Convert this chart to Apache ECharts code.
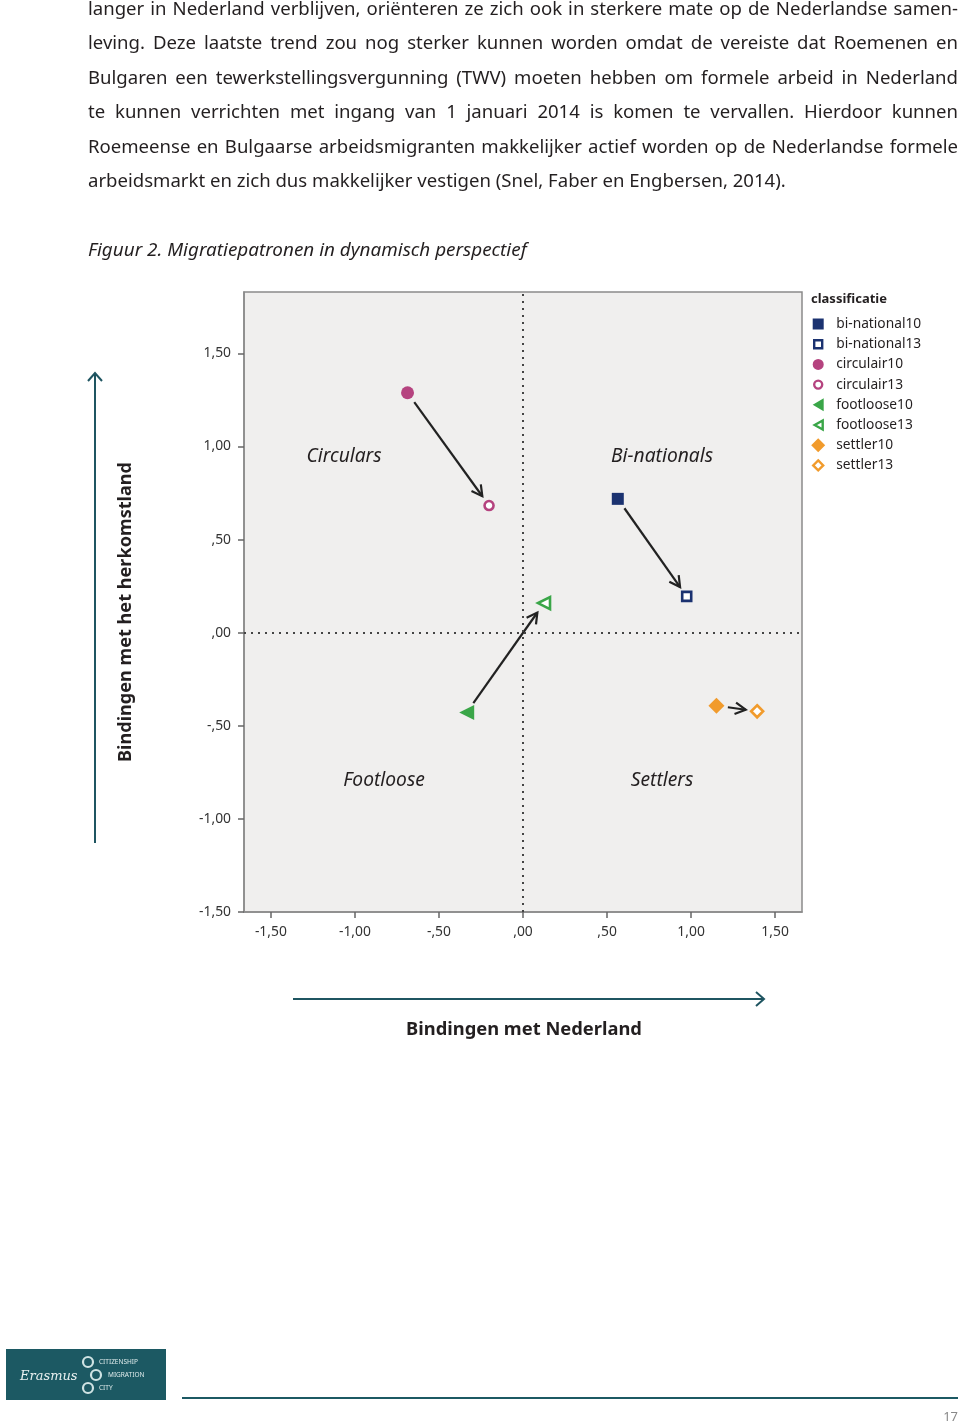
<!DOCTYPE html>
<html><head><meta charset="utf-8">
<script src="https://cdn.jsdelivr.net/npm/echarts@6/dist/echarts.min.js"></script>
<style>
html,body{margin:0;padding:0;background:#fff;}
#chart{position:absolute;left:0;top:0;width:960px;height:1424px;}
#para{position:absolute;left:88px;top:-9px;width:870px;font-family:'Noto Sans';color:#231f20;z-index:2;}
#para div{white-space:nowrap;line-height:34.4px;height:34.4px;}
</style></head><body>
<div id="chart"></div>
<div id="para"></div>
<script>
// ---------- data ----------
const paragraphLines = [
  'langer in Nederland verblijven, oriënteren ze zich ook in sterkere mate op de Nederlandse samen-',
  'leving. Deze laatste trend zou nog sterker kunnen worden omdat de vereiste dat Roemenen en',
  'Bulgaren een tewerkstellingsvergunning (TWV) moeten hebben om formele arbeid in Nederland',
  'te kunnen verrichten met ingang van 1 januari 2014 is komen te vervallen. Hierdoor kunnen',
  'Roemeense en Bulgaarse arbeidsmigranten makkelijker actief worden op de Nederlandse formele',
  'arbeidsmarkt en zich dus makkelijker vestigen (Snel, Faber en Engbersen, 2014).'
];
const captionText = 'Figuur 2. Migratiepatronen in dynamisch perspectief';
const classNames = ['bi-national', 'circulair', 'footloose', 'settler'];
const x2010 = [0.564, -0.687, -0.335, 1.151];
const y2010 = [0.719, 1.289, -0.428, -0.392];
const x2013 = [0.974, -0.202, 0.125, 1.393];
const y2013 = [0.195, 0.683, 0.159, -0.422];
const quadrantNames = ['Circulars', 'Bi-nationals', 'Footloose', 'Settlers'];
const xTickValues = [-1.5, -1, -0.5, 0, 0.5, 1, 1.5];
const xTickLabels = ['-1,50', '-1,00', '-,50', ',00', ',50', '1,00', '1,50'];
const yTickValues = [-1.5, -1, -0.5, 0, 0.5, 1, 1.5];
const yTickLabels = ['-1,50', '-1,00', '-,50', ',00', ',50', '1,00', '1,50'];
const legendTitle = 'classificatie';
const yTitle = 'Bindingen met het herkomstland';
const xTitle = 'Bindingen met Nederland';
const pageNumber = '17';

// ---------- helpers ----------
const FF = '"Noto Sans"';
const ctx = document.createElement('canvas').getContext('2d');
function measure(text, size, pre) { ctx.font = (pre || '') + ' ' + size + 'px ' + FF; return ctx.measureText(text).width; }
function fit(text, target, pre) { return +(20 * target / measure(text, 20, pre)).toFixed(2); }

// paragraph (justified by word spacing)
const paraSize = fit(paragraphLines[5], 698);
const para = document.getElementById('para');
para.style.fontSize = paraSize + 'px';
paragraphLines.forEach((t, i) => {
  const d = document.createElement('div');
  d.textContent = t;
  if (i < paragraphLines.length - 1) {
    const nat = measure(t, paraSize);
    const spaces = (t.match(/ /g) || []).length;
    d.style.wordSpacing = ((870 - nat) / spaces) + 'px';
  }
  para.appendChild(d);
});

const capSize = fit(captionText, 439, 'italic');
const quadSize = fit('Bi-nationals', 102, 'italic');
const legSize = fit('bi-national10', 85);
const legTitleSize = fit(legendTitle, 76, 'bold');
const tickSize = fit('-1,00', 32);
const yTitleSize = fit(yTitle, 300, 'bold');
const xTitleSize = fit(xTitle, 236, 'bold');

const colors = ['#1b3270', '#b5437f', '#3aa648', '#f19b2c'];
const symbols = ['rect', 'circle', 'path://M12,0 L12,14 L0,7 Z', 'diamond'];
const size10 = [12, 13, 15, 16];
const size13 = [9, 9, 12, 12];
// legend icons inside a 14x14 box (corner moves keep the box size)
const legendIcons10 = [
  'path://M0,0M14,14M1.5,1.5L12.5,1.5L12.5,12.5L1.5,12.5Z',
  'path://M0,0M14,14M1.5,7A5.5,5.5,0,1,1,12.5,7A5.5,5.5,0,1,1,1.5,7Z',
  'path://M0,0M14,14M12.5,0.5L12.5,13.5L1.5,7Z',
  'path://M0,0M14,14M7,0L14,7L7,14L0,7Z'
];
const legendIcons13 = [
  'path://M0,0M14,14M3,3L11,3L11,11L3,11Z',
  'path://M0,0M14,14M3,7A4,4,0,1,1,11,7A4,4,0,1,1,3,7Z',
  'path://M0,0M14,14M11.5,2.5L11.5,11.5L3.5,7Z',
  'path://M0,0M14,14M7,2L12,7L7,12L2,7Z'
];

function fmt(values, labels) { return v => { const i = values.findIndex(t => Math.abs(t - v) < 1e-6); return i >= 0 ? labels[i] : ''; }; }

const series = [];
const legendData = [];
classNames.forEach((c, i) => {
  series.push({
    type: 'scatter', name: c + '10', data: [[x2010[i], y2010[i]]],
    symbol: symbols[i], symbolSize: size10[i], z: 5,
    itemStyle: { color: colors[i], opacity: 1 }
  });
  series.push({
    type: 'scatter', name: c + '13', data: [[x2013[i], y2013[i]]],
    symbol: symbols[i], symbolSize: size13[i], z: 5,
    itemStyle: { color: '#ffffff', borderColor: colors[i], borderWidth: 2.6, opacity: 1 }
  });
  legendData.push({ name: c + '10', icon: legendIcons10[i], itemStyle: { color: colors[i], borderWidth: 0 } });
  legendData.push({ name: c + '13', icon: legendIcons13[i], itemStyle: { color: '#ffffff', borderColor: colors[i], borderWidth: 2.4 } });
});
series[0].markLine = {
  silent: true, symbol: 'none', label: { show: false },
  lineStyle: { type: [2, 5], color: '#444', width: 2 },
  data: [{ xAxis: 0 }, { yAxis: 0 }]
};
series.push({
  type: 'custom', name: 'arrows', coordinateSystem: 'cartesian2d', z: 3, silent: true,
  data: classNames.map((c, i) => [x2010[i], y2010[i], x2013[i], y2013[i]]),
  encode: { x: [0, 2], y: [1, 3] },
  renderItem: function (params, api) {
    const p1 = api.coord([api.value(0), api.value(1)]);
    const p2 = api.coord([api.value(2), api.value(3)]);
    const dx = p2[0] - p1[0], dy = p2[1] - p1[1], len = Math.hypot(dx, dy);
    const ux = dx / len, uy = dy / len, gap = 11.5;
    const s = [p1[0] + ux * gap, p1[1] + uy * gap];
    const e = [p2[0] - ux * gap, p2[1] - uy * gap];
    const ang = Math.atan2(uy, ux), ah = 12, aw = 0.5;
    const a1 = [e[0] - ah * Math.cos(ang - aw), e[1] - ah * Math.sin(ang - aw)];
    const a2 = [e[0] - ah * Math.cos(ang + aw), e[1] - ah * Math.sin(ang + aw)];
    return {
      type: 'group', children: [
        { type: 'line', shape: { x1: s[0], y1: s[1], x2: e[0], y2: e[1] }, style: { stroke: '#222', lineWidth: 2.2 } },
        { type: 'polyline', shape: { points: [a1, e, a2] }, style: { stroke: '#222', lineWidth: 2.2, fill: null } }
      ]
    };
  }
});

function txt(text, x, y, font, opts) {
  opts = opts || {};
  return {
    type: 'text', x: x, y: y, rotation: opts.rotation || 0, z: 10,
    style: {
      text: text, x: 0, y: 0, font: font, fill: opts.fill || '#231f20',
      textAlign: opts.align || 'left', align: opts.align || 'left',
      textVerticalAlign: 'middle', verticalAlign: 'middle'
    }
  };
}
const teal = '#1f5561';
const graphics = [
  txt(captionText, 88, 251, 'italic ' + capSize + 'px ' + FF),
  txt(quadrantNames[0], 344, 457, 'italic ' + quadSize + 'px ' + FF, { align: 'center' }),
  txt(quadrantNames[1], 662, 457, 'italic ' + quadSize + 'px ' + FF, { align: 'center' }),
  txt(quadrantNames[2], 384, 781, 'italic ' + quadSize + 'px ' + FF, { align: 'center' }),
  txt(quadrantNames[3], 662, 781, 'italic ' + quadSize + 'px ' + FF, { align: 'center' }),
  txt(legendTitle, 811, 299, 'bold ' + legTitleSize + 'px ' + FF),
  txt(yTitle, 126, 612, 'bold ' + yTitleSize + 'px ' + FF, { align: 'center', rotation: Math.PI / 2 }),
  txt(xTitle, 524, 1030, 'bold ' + xTitleSize + 'px ' + FF, { align: 'center' }),
  { type: 'line', shape: { x1: 95, y1: 843, x2: 95, y2: 373 }, style: { stroke: teal, lineWidth: 2 } },
  { type: 'polyline', shape: { points: [[88, 381], [95, 373], [102, 381]] }, style: { stroke: teal, lineWidth: 2, fill: null } },
  { type: 'line', shape: { x1: 293, y1: 999, x2: 763, y2: 999 }, style: { stroke: teal, lineWidth: 2 } },
  { type: 'polyline', shape: { points: [[756, 992], [764, 999], [756, 1006]] }, style: { stroke: teal, lineWidth: 2, fill: null } },
  // logo
  { type: 'rect', shape: { x: 6, y: 1349, width: 160, height: 51 }, style: { fill: '#1c5963' } },
  txt('Erasmus', 20, 1377, 'italic 13px "DejaVu Serif"', { fill: '#e8f0f0' }),
  { type: 'circle', shape: { cx: 88, cy: 1362, r: 5 }, style: { stroke: '#cfe3e3', lineWidth: 2.2, fill: null } },
  { type: 'circle', shape: { cx: 96, cy: 1375, r: 5 }, style: { stroke: '#cfe3e3', lineWidth: 2.2, fill: null } },
  { type: 'circle', shape: { cx: 88, cy: 1388, r: 5 }, style: { stroke: '#cfe3e3', lineWidth: 2.2, fill: null } },
  txt('CITIZENSHIP', 99, 1362, '6.5px ' + FF, { fill: '#e0ecec' }),
  txt('MIGRATION', 108, 1375, '6.5px ' + FF, { fill: '#e0ecec' }),
  txt('CITY', 99, 1388, '6.5px ' + FF, { fill: '#e0ecec' }),
  { type: 'line', shape: { x1: 182, y1: 1398, x2: 958, y2: 1398 }, style: { stroke: '#1c5963', lineWidth: 2 } },
  txt(pageNumber, 958, 1417, '13px "Liberation Sans Narrow", ' + FF, { align: 'right', fill: '#888' })
];

const chart = echarts.init(document.getElementById('chart'), null, { renderer: 'canvas' });
chart.setOption({
  animation: false,
  backgroundColor: '#ffffff',
  textStyle: { fontFamily: FF },
  grid: { left: 244, top: 292, width: 558, height: 620, show: true, backgroundColor: '#f0efee', borderColor: '#8a8a8a', borderWidth: 1.5 },
  xAxis: {
    type: 'value', min: -1.66, max: 1.66, splitLine: { show: false },
    axisLine: { show: true, onZero: false, lineStyle: { color: '#8a8a8a', width: 1.5 } },
    axisTick: { show: true, customValues: xTickValues, length: 6, lineStyle: { color: '#666', width: 1.5 } },
    axisLabel: { customValues: xTickValues, formatter: fmt(xTickValues, xTickLabels), fontSize: tickSize, color: '#333', margin: 13, fontFamily: FF }
  },
  yAxis: {
    type: 'value', min: -1.5, max: 1.83, splitLine: { show: false },
    axisLine: { show: true, onZero: false, lineStyle: { color: '#8a8a8a', width: 1.5 } },
    axisTick: { show: true, customValues: yTickValues, length: 6, lineStyle: { color: '#666', width: 1.5 } },
    axisLabel: { customValues: yTickValues, formatter: fmt(yTickValues, yTickLabels), fontSize: tickSize, color: '#333', margin: 13, fontFamily: FF }
  },
  legend: {
    orient: 'vertical', left: 810, top: 317, padding: 0, itemWidth: 14, itemHeight: 14, itemGap: 5,
    selectedMode: false,
    textStyle: { fontFamily: FF, fontSize: legSize, color: '#231f20', padding: [0, 0, 0, 6] },
    data: legendData
  },
  graphic: graphics,
  series: series
});
</script>
</body></html>
